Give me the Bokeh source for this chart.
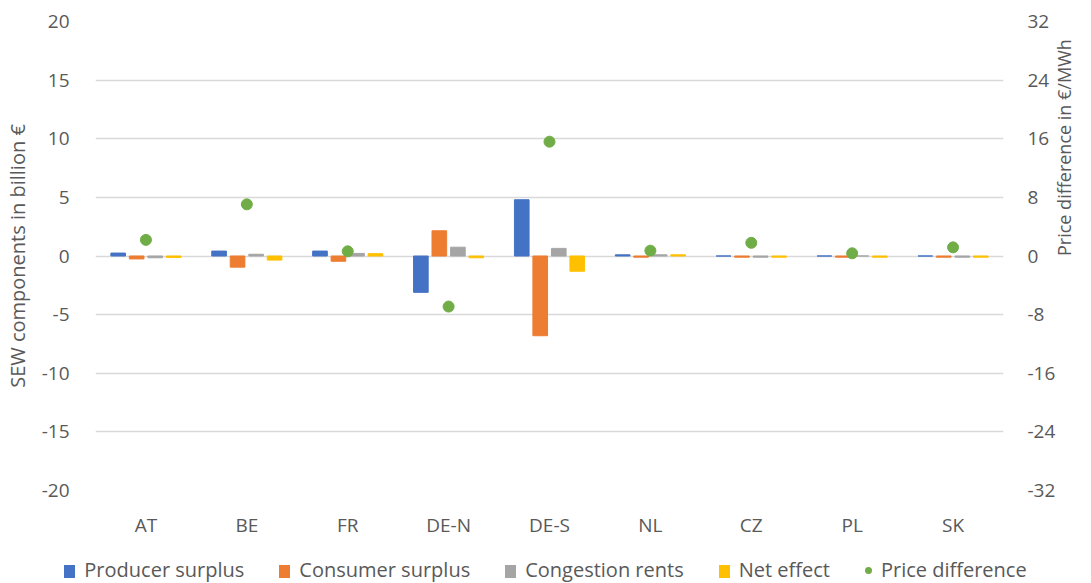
import math
from bokeh.plotting import figure
from bokeh.layouts import column
from bokeh.models import (FactorRange, Range1d, LinearAxis, ColumnDataSource,
                          FixedTicker, Title, Div)
from bokeh.transform import dodge
from bokeh.embed import file_html
from bokeh.resources import INLINE

countries = ["AT", "BE", "FR", "DE-N", "DE-S", "NL", "CZ", "PL", "SK"]
producer = [0.25, 0.42, 0.42, -3.1, 4.8, 0.1, 0.0, 0.0, 0.0]
consumer = [-0.25, -0.95, -0.45, 2.15, -6.8, -0.1, -0.1, -0.1, -0.1]
congestion = [-0.15, 0.15, 0.22, 0.75, 0.65, 0.1, -0.1, 0.0, -0.1]
net = [-0.12, -0.35, 0.2, -0.15, -1.3, 0.1, -0.1, -0.1, -0.1]
price = [2.2, 7.05, 0.64, -6.9, 15.6, 0.73, 1.8, 0.37, 1.18]

left_ticks = [-20, -15, -10, -5, 0, 5, 10, 15, 20]
right_ticks = [-32, -24, -16, -8, 0, 8, 16, 24, 32]

FONT = "Open Sans"
TXT = "#595959"
GRID = "#d9d9d9"
RIGHT_TITLE = "Price difference  in €/MWh"

src = ColumnDataSource(dict(c=countries, producer=producer, consumer=consumer,
                            congestion=congestion, net=net, price=price))

p = figure(width=1091, height=540, x_range=FactorRange(*countries, range_padding=0),
           y_range=Range1d(-20, 20), output_backend="svg", toolbar_location=None,
           min_border_left=92, min_border_right=86, min_border_top=21, min_border_bottom=47)
p.extra_y_ranges = {"price": Range1d(-32, 32)}
p.outline_line_color = None
p.background_fill_color = "white"
p.border_fill_color = "white"

series = [("producer", "Producer surplus", "#4472c4", -0.275),
          ("consumer", "Consumer surplus", "#ed7d31", -0.092),
          ("congestion", "Congestion rents", "#a5a5a5", 0.092),
          ("net", "Net effect", "#ffc000", 0.275)]
for key, label, color, off in series:
    p.vbar(x=dodge("c", off, range=p.x_range), top=key, bottom=0, width=0.145,
           source=src, fill_color=color, line_color=color)

p.scatter(x="c", y="price", y_range_name="price", source=src, size=11,
          fill_color="#70ad47", line_color="#70ad47")

p.yaxis.ticker = FixedTicker(ticks=left_ticks)
p.yaxis.major_label_overrides = {t: str(t) for t in left_ticks}
p.yaxis.axis_label = "SEW components in billion €"

right = LinearAxis(y_range_name="price", ticker=FixedTicker(ticks=right_ticks))
right.major_label_overrides = {t: str(t) for t in right_ticks}
p.add_layout(right, "right")

for ax in [p.yaxis[0], right, p.xaxis[0]]:
    ax.axis_line_color = None
    ax.major_tick_line_color = None
    ax.minor_tick_line_color = None
    ax.major_label_text_font = FONT
    ax.major_label_text_font_size = "19px"
    ax.major_label_text_color = TXT
    ax.axis_label_text_font = FONT
    ax.axis_label_text_font_size = "20px"
    ax.axis_label_text_color = TXT
    ax.axis_label_text_font_style = "normal"
    ax.major_label_standoff = 20

p.yaxis[0].axis_label_standoff = 8
p.xaxis.major_label_standoff = 15
right.major_label_standoff = 18

try:
    right.axis_label_orientation = math.pi / 2
    right.axis_label = RIGHT_TITLE
    right.axis_label_standoff = 6
    right.axis_label_text_font_size = "18px"
except Exception:
    t = Title(text=RIGHT_TITLE, align="center", text_font=FONT, text_font_size="18px",
              text_color=TXT, text_font_style="normal")
    p.add_layout(t, "right")

p.xgrid.grid_line_color = None
p.ygrid.grid_line_color = GRID
p.ygrid.grid_line_width = 1.5

# legend strip below the chart (HTML text, same colours as the series)
legend_entries = [(label, color, "square") for _, label, color, _ in series]
legend_entries.append(("Price difference", "#70ad47", "dot"))
parts = []
for i, (label, color, kind) in enumerate(legend_entries):
    if kind == "square":
        sw = (f'<span style="display:inline-block;width:11px;height:13px;background:{color};'
              f'margin-right:9px;vertical-align:-1px"></span>')
    else:
        sw = (f'<span style="display:inline-block;width:7px;height:7px;border-radius:50%;'
              f'background:{color};margin-right:9px;vertical-align:3px"></span>')
    mr = "0" if i == len(legend_entries) - 1 else "35px"
    parts.append(f'<span style="margin-right:{mr}">{sw}{label}</span>')
html = (f'<div style="width:1079px;padding-left:12px;padding-top:17px;text-align:center;'
        f'font-family:\'{FONT}\';font-size:20px;line-height:26px;color:{TXT};white-space:nowrap">'
        + "".join(parts) + '</div>')
leg = Div(text=html, width=1091, height=43, margin=(0, 0, 0, 0))

open("out.html", "w").write(file_html(column(p, leg, spacing=0), INLINE))
